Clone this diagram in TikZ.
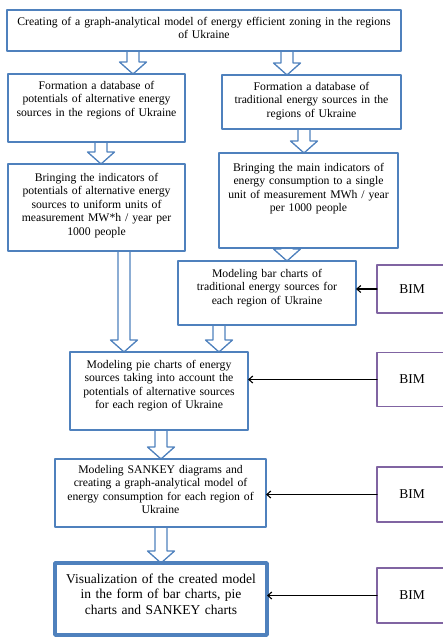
\documentclass[tikz,border=0pt]{standalone}
\usepackage{fontspec}
\setmainfont{Liberation Serif}
\usetikzlibrary{arrows.meta, calc}
\definecolor{boxblue}{RGB}{79,129,189}
\definecolor{bimpurple}{RGB}{128,100,162}
% hollow block arrow: x position, from node, to node
\newcommand{\blockarrow}[3]{%
	\draw[hollow] let \p1=(#2.south), \p2=(#3.north) in
	(#1pt-6pt,\y1) -- (#1pt-6pt,\y2+12pt) -- (#1pt-13.5pt,\y2+12pt) -- (#1pt,\y2)
	-- (#1pt+13.5pt,\y2+12pt) -- (#1pt+6pt,\y2+12pt) -- (#1pt+6pt,\y1);}

\begin{document}
\begin{tikzpicture}[x=1pt, y=-1pt, line cap=round, line join=round,
	box/.style={draw=boxblue, line width=1.6pt, anchor=north, align=center,
		inner xsep=3pt, inner ysep=0pt, outer sep=0pt, text height=15pt,
		font=\fontsize{11.7}{13.6}\selectfont},
	bim/.style={draw=bimpurple, line width=1.6pt, anchor=west, minimum width=70pt,
		outer sep=0pt, font=\fontsize{13.5}{16}\selectfont},
	hollow/.style={draw=boxblue, line width=1.3pt},
	feed/.style={-{Straight Barb[length=4pt, width=7pt]}, line width=1.1pt}]
\useasboundingbox (0,0) rectangle (443,637);
%========================
% Top and the two databases
%========================
\node[box, text width=388pt, text depth=26pt] (model) at (204,10)
	{Creating of a graph-analytical model of energy efficient zoning in the regions\\ of Ukraine};
\node[box, text width=171pt, text depth=53pt] (altdb) at (96.5,74)
	{Formation a database of\\ potentials of alternative energy\\ sources in the regions of Ukraine};
\node[box, text width=173pt, text depth=39pt] (traddb) at (311.5,75)
	{Formation a database of\\ traditional energy sources in the\\ regions of Ukraine};

% units
\node[box, text width=171pt, text height=17pt, text depth=70pt] (altunits) at (96.5,164)
	{Bringing the indicators of\\ potentials of alternative energy\\ sources to uniform units of\\ measurement MW*h / year per\\ 1000 people};
\node[box, text width=173pt, text height=18pt, text depth=77pt] (tradunits) at (308.5,153)
	{Bringing the main indicators of\\ energy consumption to a single\\ unit of measurement MWh / year\\ per 1000 people};

%========================
% Modeling steps
%========================
\node[box, text width=172pt, text height=16pt, text depth=48pt] (bar) at (267,261)
	{Modeling bar charts of\\ traditional energy sources for\\ each region of Ukraine};
\node[box, text width=172pt, text height=16pt, text depth=62pt] (pie) at (159,352)
	{Modeling pie charts of energy\\ sources taking into account the\\ potentials of alternative sources\\ for each region of Ukraine};
\node[box, text width=205pt, text height=14pt, text depth=54pt] (sankey) at (160.5,459)
	{Modeling SANKEY diagrams and\\ creating a graph-analytical model of\\ energy consumption for each region of\\ Ukraine};
\node[box, line width=3.5pt, text width=206pt, text height=20pt, text depth=52pt,
	font=\fontsize{13.5}{15.5}\selectfont] (visual) at (161,563)
	{Visualization of the created model\\ in the form of bar charts, pie\\ charts and SANKEY charts};

% block arrows
\blockarrow{133}{model}{altdb}
\blockarrow{287}{model}{traddb}
\blockarrow{101}{altdb}{altunits}
\blockarrow{304}{traddb}{tradunits}
\blockarrow{287}{tradunits}{bar}
\blockarrow{124}{altunits}{pie}
\blockarrow{219}{bar}{pie}
\blockarrow{161}{pie}{sankey}
\blockarrow{161}{sankey}{visual}

%========================
% BIM inputs
%========================
\node[bim, minimum height=48pt] (bim1) at (377,289) {BIM};
\node[bim, minimum height=54pt] (bim2) at (377,379.5) {BIM};
\node[bim, minimum height=55pt] (bim3) at (377,494.5) {BIM};
\node[bim, minimum height=55pt] (bim4) at (377,595.5) {BIM};

\draw[feed] (bim1.west) -- (bim1.west -| bar.east);
\draw[feed] (bim2.west) -- (bim2.west -| pie.east);
\draw[feed] (bim3.west) -- (bim3.west -| sankey.east);
\draw[feed] (bim4.west) -- (bim4.west -| visual.east);
\end{tikzpicture}
\end{document}
